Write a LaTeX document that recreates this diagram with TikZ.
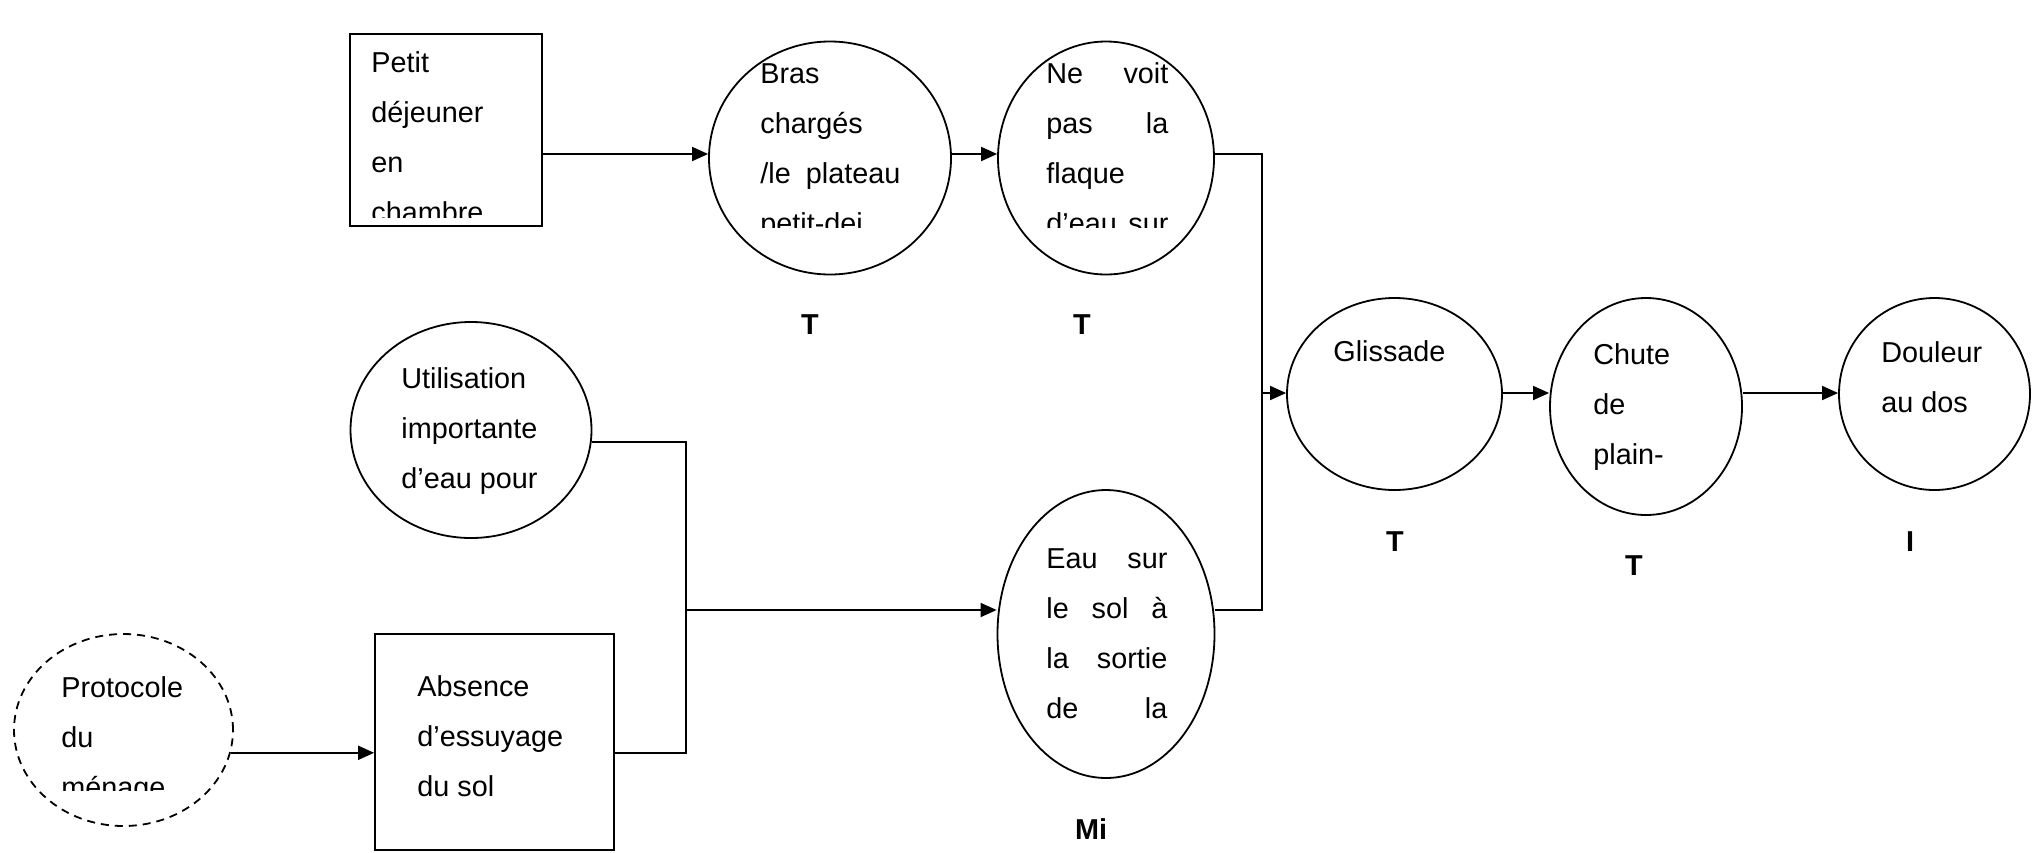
\documentclass[tikz,border=0pt]{standalone}
\usepackage{fontspec}
\setmainfont{Liberation Sans}
\usetikzlibrary{shapes.geometric,arrows.meta}
\newcommand\txtblock[2]{\vtop{\hsize=#1\relax\parindent=0pt\parskip=0pt\rightskip=0pt plus 1fil\relax #2}}
\newcommand\tjust[1]{\makebox[\hsize][s]{#1}\par}
\newcommand\tleft[1]{#1\par}
\begin{document}
\begin{tikzpicture}[x=0.5pt,y=-0.5pt,
  shp/.style={draw,line width=0.9pt,inner sep=0pt,text=black},
  ell/.style={shp,ellipse},
  boxshape/.style={shp,rectangle},
  arr/.style={-{Triangle[length=8pt,width=7pt]},line width=0.9pt},
  lnk/.style={line width=0.9pt},
  txt/.style={anchor=base west,inner sep=0pt,font=\fontsize{14.4}{25}\selectfont},
  lab/.style={inner sep=0pt,font=\bfseries\fontsize{14.4}{16}\selectfont}]
\useasboundingbox (0,0) rectangle (2040,852);

% rows and columns
\coordinate (r1) at (0,154);
\coordinate (r3) at (0,393);
\coordinate (r4) at (0,442);
\coordinate (r2) at (0,610);
\coordinate (r5) at (0,753);
\coordinate (c1) at (1262,0);
\coordinate (c2) at (686,0);

% shapes
\node[boxshape,minimum width=96pt,minimum height=96pt] (b1) at (446,130) {};
\node[ell,minimum width=121pt,minimum height=116.5pt] (bras) at (830,158) {};
\node[ell,minimum width=108pt,minimum height=116.5pt] (nev) at (1106,158) {};
\node[ell,minimum width=120.5pt,minimum height=108pt] (ut) at (471,430) {};
\node[ell,minimum width=108.5pt,minimum height=144pt] (eau) at (1106,634) {};
\node[ell,dashed,dash pattern=on 4pt off 3pt,minimum width=109.5pt,minimum height=96pt] (pro) at (123.5,730) {};
\node[boxshape,minimum width=119.5pt,minimum height=108pt] (abs) at (494.5,742) {};
\node[ell,minimum width=107.5pt,minimum height=96pt] (gl) at (1394.5,394) {};
\node[ell,minimum width=96pt,minimum height=108.5pt] (ch) at (1646,406.5) {};
\node[ell,minimum width=95.5pt,minimum height=96pt] (dl) at (1934.5,394) {};

% texts
\begin{scope}
\clip (350,34) rectangle (542,217);
\node[txt] (tb1) at (371,72) {\txtblock{80pt}{\tleft{Petit}\tleft{déjeuner}\tleft{en}\tleft{chambre}}};
\end{scope}
\begin{scope}
\clip (700,30) rectangle (960,227);
\node[txt] (tbras) at (760,83) {\txtblock{70pt}{\tleft{Bras}\tleft{chargés}\tjust{/le plateau}\tleft{petit-dej}}};
\end{scope}
\begin{scope}
\clip (990,30) rectangle (1220,227);
\node[txt] (tnev) at (1046,83) {\txtblock{61pt}{\tjust{Ne voit}\tjust{pas la}\tleft{flaque}\tjust{d’eau sur}}};
\end{scope}
\node[txt] (tut) at (401,388) {\txtblock{80pt}{\tleft{Utilisation}\tleft{importante}\tleft{d’eau pour}}};
\node[txt] (teau) at (1046,568) {\txtblock{60.5pt}{\tjust{Eau sur}\tjust{le sol à}\tjust{la sortie}\tjust{de la}}};
\begin{scope}
\clip (10,630) rectangle (240,790);
\node[txt] (tpro) at (61,697) {\txtblock{70pt}{\tleft{Protocole}\tleft{du}\tleft{ménage}}};
\end{scope}
\node[txt] (tabs) at (417,696) {\txtblock{80pt}{\tleft{Absence}\tleft{d’essuyage}\tleft{du sol}}};
\node[txt] (tgl) at (1333,361) {\txtblock{70pt}{\tleft{Glissade}}};
\node[txt] (tch) at (1593,364) {\txtblock{60pt}{\tleft{Chute}\tleft{de}\tleft{plain-}}};
\node[txt] (tdl) at (1881,362) {\txtblock{60pt}{\tleft{Douleur}\tleft{au dos}}};

% labels
\node[lab] (l1) at (810,325) {T};
\node[lab] (l2) at (1082,325) {T};
\node[lab] (l3) at (1395,542) {T};
\node[lab] (l4) at (1634,566) {T};
\node[lab] (l5) at (1910,542) {I};
\node[lab] (l6) at (1091,829) {Mi};

% connectors
\draw[arr] (b1.east |- r1) -- (bras.west |- r1);
\draw[arr] (bras.east |- r1) -- (nev.west |- r1);
\draw[lnk] (nev.east |- r1) -| (c1 |- r2) -- (eau.east |- r2);
\draw[arr] (c1 |- r3) -- (gl.west |- r3);
\draw[arr] (gl.east |- r3) -- (ch.west |- r3);
\draw[arr] (ch.east |- r3) -- (dl.west |- r3);
\draw[lnk] (ut.east |- r4) -| (c2 |- r5) -- (abs.east |- r5);
\draw[arr] (c2 |- r2) -- (eau.west |- r2);
\draw[arr] (pro.-12.2) -- (abs.west |- pro.-12.2);
\end{tikzpicture}
\end{document}
